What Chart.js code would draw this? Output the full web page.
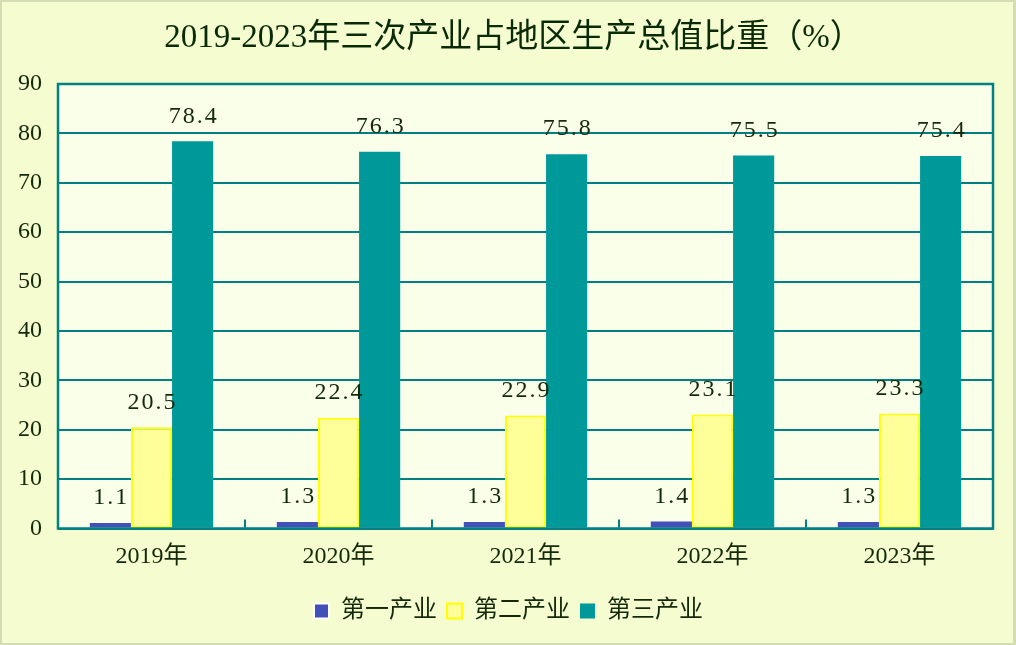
<!DOCTYPE html>
<html>
<head>
<meta charset="utf-8">
<script src="https://cdn.jsdelivr.net/npm/chart.js@4/dist/chart.umd.min.js"></script>
<style>
html,body{margin:0;padding:0;background:#F4FBD0;}
#wrap{width:1016px;height:645px;}
</style>
</head>
<body>
<div id="wrap"><canvas id="c" width="1016" height="645"></canvas></div>
<script>
const categories = ['2019年', '2020年', '2021年', '2022年', '2023年'];
const primary   = [1.1, 1.3, 1.3, 1.4, 1.3];
const secondary = [20.5, 22.4, 22.9, 23.1, 23.3];
const tertiary  = [78.4, 76.3, 75.8, 75.5, 75.4];
const seriesNames = ['第一产业', '第二产业', '第三产业'];
const yTicks = [0, 10, 20, 30, 40, 50, 60, 70, 80, 90];
const titleText = '2019-2023年三次产业占地区生产总值比重（%）';

const FONT = "'Liberation Serif', 'Noto Sans CJK SC', serif";
const TXT = '#14280A';
const GRID = '#008080';

const bgPlugin = {
  id: 'bg',
  afterLayout(chart) {
    if (chart.titleBlock) { chart.titleBlock.left += 17; chart.titleBlock.right += 17; }
    if (chart.legend) { chart.legend.left += 12; chart.legend.right += 12; }
  },
  beforeDraw(chart) {
    const ctx = chart.ctx, a = chart.chartArea;
    ctx.save();
    ctx.fillStyle = '#D2DDB6';
    ctx.fillRect(0, 0, chart.width, chart.height);
    ctx.fillStyle = '#F4FCD0';
    ctx.fillRect(2, 2, chart.width - 5, chart.height - 4);
    ctx.fillStyle = '#FAFFEA';
    ctx.fillRect(a.left, a.top, a.right - a.left, a.bottom - a.top);
    ctx.restore();
  },
  afterDatasetsDraw(chart) {
    const ctx = chart.ctx, a = chart.chartArea;
    const xs = chart.scales.x;
    ctx.save();
    ctx.strokeStyle = GRID;
    ctx.lineWidth = 2.5;
    ctx.strokeRect(a.left, a.top, a.right - a.left, a.bottom - a.top);
    ctx.lineWidth = 2;
    for (let i = 0; i < categories.length - 1; i++) {
      const px = (xs.getPixelForValue(i) + xs.getPixelForValue(i + 1)) / 2;
      ctx.beginPath();
      ctx.moveTo(px, a.bottom);
      ctx.lineTo(px, a.bottom - 9);
      ctx.stroke();
    }
    ctx.fillStyle = TXT;
    ctx.font = "24px " + FONT;
    ctx.textAlign = 'center';
    ctx.textBaseline = 'middle';
    try { ctx.letterSpacing = '2px'; } catch (e) {}
    chart.data.datasets.forEach((ds, di) => {
      const meta = chart.getDatasetMeta(di);
      meta.data.forEach((bar, i) => {
        ctx.fillText(ds.data[i].toFixed(1), bar.x + 1, bar.y - 25);
      });
    });
    ctx.restore();
  }
};

new Chart(document.getElementById('c'), {
  type: 'bar',
  data: {
    labels: categories,
    datasets: [
      { label: seriesNames[0], data: primary, backgroundColor: '#4350B8', borderWidth: 0 },
      { label: seriesNames[1], data: secondary, backgroundColor: '#FFFF99', borderColor: '#FFFF00', borderWidth: 2, borderSkipped: false },
      { label: seriesNames[2], data: tertiary, backgroundColor: '#009999', borderWidth: 0 }
    ]
  },
  options: {
    responsive: false,
    animation: false,
    devicePixelRatio: 1,
    layout: { padding: { left: 0, right: 23, top: 0, bottom: 12 } },
    datasets: { bar: { categoryPercentage: 0.66, barPercentage: 1.0 } },
    plugins: {
      title: {
        display: true,
        text: titleText,
        color: '#0A2A05',
        font: { family: FONT, size: 33, weight: 'normal', lineHeight: 1.2 },
        padding: { top: 19, bottom: 25.4 }
      },
      legend: {
        display: true,
        position: 'bottom',
        labels: {
          color: TXT,
          font: { family: FONT, size: 24 },
          boxWidth: 15,
          boxHeight: 15,
          padding: 10,
          generateLabels(chart) {
            const items = Chart.defaults.plugins.legend.labels.generateLabels(chart);
            items[0].strokeStyle = '#FFFFFF'; items[0].lineWidth = 2;
            items[1].strokeStyle = '#FFFF00'; items[1].lineWidth = 2;
            items[2].strokeStyle = '#009999'; items[2].lineWidth = 0;
            return items;
          }
        }
      },
      tooltip: { enabled: false }
    },
    scales: {
      x: {
        grid: { display: false, drawTicks: false },
        border: { display: false },
        ticks: { color: TXT, font: { family: FONT, size: 24 }, padding: 14 },
        afterFit(s) { s.height = 60.5; }
      },
      y: {
        min: 0, max: 90,
        afterBuildTicks(s) { s.ticks = yTicks.map(v => ({ value: v })); },
        grid: { color: GRID, lineWidth: 2, drawTicks: false },
        border: { display: false },
        ticks: { color: TXT, font: { family: FONT, size: 24 }, padding: 16 },
        afterFit(s) { s.width = 58; }
      }
    }
  },
  plugins: [bgPlugin]
});
</script>
</body>
</html>
